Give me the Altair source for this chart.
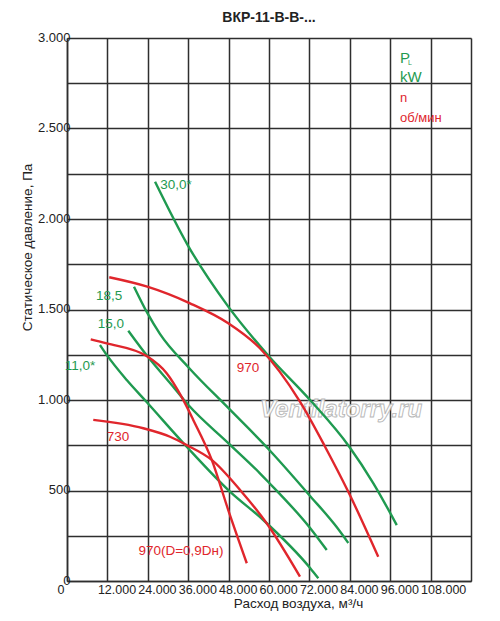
import altair as alt
import pandas as pd

FONT = "Liberation Sans Narrow, Arial Narrow, Liberation Sans, Arial, sans-serif"
GREEN = "#1f9a50"
RED = "#e0262c"
GRID = "#2e2e2e"

# ---- curve data (air flow m3/h, static pressure Pa) ----
g30_x = [26150, 35850, 47900, 60100, 72200, 83850, 91000, 97950]
g30_y = [2206, 1856, 1516, 1239, 1000, 742, 540, 309]

g185_x = [19900, 23850, 27600, 36250, 47900, 60100, 72200, 80100, 83550]
g185_y = [1626, 1481, 1365, 1177, 956, 724, 470, 298, 210]

g15_x = [18200, 23850, 30600, 36050, 47900, 57300, 59800, 72200, 77150]
g15_y = [1383, 1243, 1094, 972, 762, 595, 547, 293, 171]

g11_x = [9800, 11800, 17750, 23650, 35550, 48400, 58300, 72200, 74650]
g11_y = [1304, 1249, 1110, 989, 742, 494, 337, 72, 15]

r970_x = [12550, 23850, 36550, 47900, 57300, 69200, 76650, 83550, 92450]
r970_y = [1678, 1626, 1534, 1424, 1286, 991, 742, 493, 134]

r970d_x = [7050, 11800, 23650, 29600, 34050, 37500, 43000, 47900, 53400]
r970d_y = [1335, 1313, 1243, 1148, 1017, 890, 669, 392, 98]

r730_x = [7800, 22650, 30600, 35550, 43000, 51400, 59300, 69200]
r730_y = [890, 844, 797, 751, 669, 503, 319, 24]

series = [
    ("30,0*", g30_x, g30_y),
    ("18,5", g185_x, g185_y),
    ("15,0", g15_x, g15_y),
    ("11,0*", g11_x, g11_y),
    ("970", r970_x, r970_y),
    ("970(D=0,9Dн)", r970d_x, r970d_y),
    ("730", r730_x, r730_y),
]
series_names = [s[0] for s in series]
series_colors = [GREEN, GREEN, GREEN, GREEN, RED, RED, RED]

rows = []
for name, xs, ys in series:
    for i, (xv, yv) in enumerate(zip(xs, ys)):
        rows.append({"series": name, "x": xv, "y": yv, "order": i})
df = pd.DataFrame(rows)

# ---- curve labels ----
lab_text = ["30,0*", "18,5", "15,0", "11,0*", "970", "730", "970(D=0,9Dн)"]
lab_x = [32400, 12500, 13050, 3850, 53750, 15150, 33850]
lab_y = [2188, 1575, 1420, 1188, 1177, 796, 166]
lab_c = [GREEN, GREEN, GREEN, GREEN, RED, RED, RED]
labels = pd.DataFrame({"x": lab_x, "y": lab_y, "t": lab_text, "c": lab_c})

# ---- units legend ----
leg_text = ["P", "kW", "n", "об/мин"]
leg_x = [98900, 98900, 98900, 98900]
leg_y = [2862, 2757, 2646, 2536]
leg_c = [GREEN, GREEN, RED, RED]
leg_s = [15, 15, 13, 13]
legend_df = pd.DataFrame({"x": leg_x, "y": leg_y, "t": leg_text, "c": leg_c, "s": leg_s})
sub_df = pd.DataFrame({"x": [101300], "y": [2851], "t": ["L"]})

title_df = pd.DataFrame({"x": [60000], "y": [3088], "t": ["ВКР-11-В-В-..."]})
wm_df = pd.DataFrame({"x": [81400], "y": [945], "t": ["Ventilatorry.ru"]})

x_ticks = list(range(0, 120001, 12000))
y_ticks = list(range(0, 3001, 250))

x_scale = alt.Scale(domain=[0, 120000], nice=False)
y_scale = alt.Scale(domain=[0, 3000], nice=False)

x_axis = alt.Axis(
    values=x_ticks,
    labelExpr="datum.value == 0 ? '0' : (datum.value >= 120000 ? '' : (datum.value/1000) + '.000')",
    title="Расход воздуха, м³/ч",
    grid=True, gridColor=GRID, gridWidth=1.5, gridOpacity=1,
    domainColor=GRID, domainWidth=1.5,
    ticks=False, tickSize=0,
    labelFont=FONT, labelFontSize=12.5, labelColor="#222",
    labelAlign="left", labelBaseline="top", labelPadding=2, labelOffset=-10,
    labelOverlap=False, labelFlush=False,
    titleFont=FONT, titleFontSize=13.5, titleFontWeight="normal", titleColor="#222",
    titleX=231, titleY=15, titleAlign="center", titleBaseline="top",
)
y_axis = alt.Axis(
    values=y_ticks,
    labelExpr="datum.value % 500 != 0 ? '' : (datum.value == 0 ? '0' : (datum.value < 1000 ? '' + datum.value : floor(datum.value/1000) + '.' + (datum.value % 1000 == 0 ? '000' : '500')))",
    title="Статическое давление, Па",
    grid=True, gridColor=GRID, gridWidth=1.5, gridOpacity=1,
    domainColor=GRID, domainWidth=1.5,
    ticks=False, tickSize=0,
    labelFont=FONT, labelFontSize=13, labelColor="#222",
    labelAlign="right", labelBaseline="middle", labelPadding=-3, labelOffset=-1,
    labelOverlap=False, labelFlush=False,
    titleFont=FONT, titleFontSize=13.5, titleFontWeight="normal", titleColor="#222",
    titleX=-40, titleY=209, titleAngle=270, titleAlign="center", titleBaseline="middle",
)

X = alt.X("x:Q", scale=x_scale, axis=x_axis)
Y = alt.Y("y:Q", scale=y_scale, axis=y_axis)

watermark = alt.Chart(wm_df).mark_text(
    font=FONT, fontSize=24, fontStyle="italic", fontWeight="bold",
    fill="white", stroke="#b0b0b0", strokeWidth=0.9, opacity=0.9,
).encode(x=X, y=Y, text="t:N")

lines = alt.Chart(df).mark_line(strokeWidth=2.4, interpolate="monotone").encode(
    x=X, y=Y,
    color=alt.Color("series:N", scale=alt.Scale(domain=series_names, range=series_colors), legend=None),
    order="order:Q",
)

curve_labels = alt.Chart(labels).mark_text(
    font=FONT, fontSize=13.5, align="center", baseline="middle"
).encode(x=X, y=Y, text="t:N", color=alt.Color("c:N", scale=None))

legend_text = alt.Chart(legend_df).mark_text(
    font=FONT, align="left", baseline="alphabetic"
).encode(x=X, y=Y, text="t:N", color=alt.Color("c:N", scale=None), size=alt.Size("s:Q", scale=None))

sub_text = alt.Chart(sub_df).mark_text(
    font=FONT, fontSize=7, align="left", baseline="alphabetic", color=GREEN
).encode(x=X, y=Y, text="t:N")

title_text = alt.Chart(title_df).mark_text(
    font=FONT, fontSize=14, fontWeight="bold", align="center", baseline="alphabetic", color="#222"
).encode(x=X, y=Y, text="t:N")

chart = alt.layer(watermark, lines, curve_labels, legend_text, sub_text, title_text).properties(
    width=404, height=543,
    padding={"left": 59, "top": 30, "right": 21, "bottom": 32},
    autosize=alt.AutoSizeParams(type="none"),
).configure_view(stroke=None).configure(background="white")

chart.save("out.html", embed_options={"renderer": "svg", "actions": False})
